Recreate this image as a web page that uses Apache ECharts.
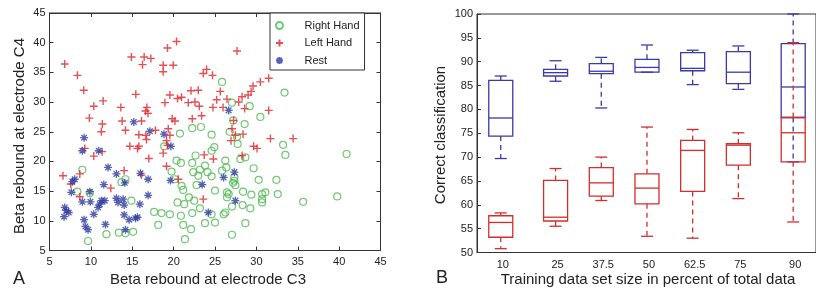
<!DOCTYPE html>
<html>
<head>
<meta charset="utf-8">
<script src="https://cdn.jsdelivr.net/npm/echarts@6/dist/echarts.min.js"></script>
<style>
  html, body { margin: 0; padding: 0; background: #fff; }
  #main { width: 816px; height: 289px; }
</style>
</head>
<body>
<div id="main"></div>
<script>
// panel A: beta rebound at C3 (x) vs C4 (y)
const rightHand = [
  [20.76, 24.7], [22.25, 25.6], [23.3, 25.8],
  [25.85, 33.4], [33.4, 31.6], [27.05, 29.9], [29.19, 29.3], [30.48, 27.5], [28.58, 26.3], [27.2, 26.9], [26.77, 25.0], [27.66, 24.1],
  [8.97, 18.6], [8.37, 14.9], [9.87, 14.65], [9.66, 6.6], [11.88, 7.75], [13.38, 8.0], [14.18, 7.9], [15.11, 8.15],
  [13.69, 16.5], [14.18, 17.0], [14.9, 13.4], [18.86, 22.55], [17.65, 11.5], [18.54, 11.3], [19.55, 11.1], [18.14, 9.3],
  [20.47, 13.1], [21.28, 12.8], [20.88, 10.85], [19.75, 18.3], [20.16, 17.0], [20.96, 15.9], [21.16, 15.2], [20.35, 20.15],
  [20.88, 19.75], [22.25, 19.75], [22.65, 21.0], [22.37, 18.2], [23.18, 18.6], [22.98, 17.6], [23.79, 19.3], [24.1, 18.2],
  [24.59, 17.5], [22.77, 16.0], [25.0, 15.1], [21.85, 13.95], [22.49, 13.4], [23.18, 12.1], [22.25, 11.3], [21.16, 9.3],
  [22.1, 8.6], [21.37, 6.9], [23.79, 9.6], [24.59, 11.1], [25.0, 9.7], [24.59, 21.8], [24.92, 22.4], [24.59, 24.5],
  [27.74, 22.95], [26.25, 20.15], [26.37, 19.0], [25.85, 18.45], [26.45, 14.8], [26.65, 14.5], [27.34, 16.75], [27.18, 16.4],
  [27.46, 16.0], [27.34, 17.3], [28.06, 20.4], [28.67, 20.7], [29.67, 18.85], [30.28, 16.9], [28.39, 14.9], [29.39, 14.4],
  [30.69, 14.5], [31.09, 14.8], [30.69, 13.65], [30.69, 13.1], [32.42, 16.9], [32.58, 14.5], [33.23, 22.8], [33.5, 21.1],
  [40.9, 21.25], [39.77, 14.1], [35.65, 13.2], [28.34, 12.65], [29.27, 12.1], [27.05, 12.4], [26.25, 11.4], [26.05, 11.1],
  [28.67, 9.6], [27.05, 7.65], [26.45, 13.95]
]
const leftHand = [
  [6.84, 36.4], [8.37, 34.5], [9.14, 32.0], [10.35, 29.3], [11.48, 30.2], [9.82, 27.3], [11.39, 26.3], [11.27, 25.0],
  [13.62, 29.1], [13.78, 26.8], [14.18, 25.25], [15.43, 31.3], [14.9, 37.6], [16.44, 37.6], [17.25, 37.35], [16.24, 36.3],
  [16.12, 26.8], [16.77, 29.1], [16.6, 28.5], [16.9, 28.1], [15.8, 24.5], [16.65, 24.4], [17.8, 25.25], [19.26, 39.1],
  [20.35, 40.2], [18.74, 36.2], [19.95, 36.2], [18.74, 35.1], [18.95, 29.9], [19.55, 31.2], [20.47, 30.6], [20.96, 30.8],
  [19.83, 27.2], [20.16, 26.8], [19.35, 25.5], [19.55, 24.4], [22.1, 31.9], [22.98, 32.0], [21.77, 29.9], [22.58, 30.0],
  [23.1, 29.3], [22.25, 27.2], [23.38, 27.7], [23.58, 34.8], [23.98, 35.5], [24.7, 34.5], [24.75, 29.1], [25.2, 30.4],
  [27.66, 38.6], [30.48, 33.4], [31.49, 34.0], [29.6, 32.7], [29.36, 31.8], [29.0, 31.2], [25.64, 31.8], [26.45, 30.5],
  [28.27, 30.9], [27.86, 30.0], [25.97, 29.1], [28.58, 28.9], [31.49, 28.6], [27.05, 25.5], [27.25, 26.9], [27.46, 24.4],
  [31.7, 23.85], [34.44, 23.85],
  [9.26, 22.2], [10.35, 20.9], [11.36, 21.65], [14.71, 22.55], [15.63, 22.2], [15.8, 22.55], [16.72, 23.7], [17.0, 20.5],
  [18.74, 21.4], [19.14, 19.2], [19.14, 23.5], [19.26, 22.7], [14.02, 18.45], [8.66, 17.9], [6.63, 17.6], [7.57, 16.2],
  [8.66, 14.05], [12.41, 15.5], [16.12, 17.7], [20.56, 17.0], [23.58, 13.65], [23.7, 21.1], [24.8, 20.4],
  [26.93, 23.5], [28.39, 24.6], [29.67, 22.55], [30.08, 22.2], [28.27, 21.0]
]
const rest = [
  [15.19, 26.65], [17.13, 25.1], [18.83, 24.6], [9.18, 24.0], [26.65, 28.6],
  [8.97, 21.8], [10.95, 21.8], [12.08, 19.0], [7.76, 16.6], [8.05, 17.0], [7.64, 14.8], [9.87, 14.9], [9.94, 13.2],
  [6.84, 12.25], [7.04, 11.7], [7.32, 11.4], [6.76, 10.7], [8.97, 13.2], [9.18, 10.2], [9.34, 9.05], [9.66, 8.5],
  [10.35, 11.1], [10.87, 12.25], [11.07, 12.8], [11.27, 13.4], [11.68, 13.4], [11.56, 16.1], [11.76, 9.4], [13.09, 17.9],
  [13.09, 13.8], [13.29, 13.1], [13.9, 13.65], [14.02, 12.65], [14.02, 11.0], [14.18, 8.5], [14.62, 10.2], [15.39, 10.45],
  [15.63, 10.6], [16.0, 18.0], [15.92, 12.8], [16.92, 17.0], [16.92, 14.3], [14.1, 16.4], [19.67, 22.55], [19.62, 16.8],
  [23.46, 16.1], [24.19, 11.4], [27.34, 18.2], [26.04, 17.3], [27.46, 13.4]
]

// panel B: training set size (%) and box stats [min, q1, median, q3, max]
const trainSizes = [10, 25, 37.5, 50, 62.5, 75, 90]
const blueBoxes = [
  [69.7, 74.4, 78.2, 86.1, 87.0],
  [85.9, 87.0, 87.7, 88.4, 90.2],
  [80.3, 87.5, 88.0, 89.6, 90.9],
  [87.8, 87.8, 88.8, 90.5, 93.5],
  [85.2, 88.1, 88.6, 91.9, 92.4],
  [84.2, 85.4, 87.8, 92.1, 93.3],
  [69.0, 78.3, 84.7, 93.8, 100]
]
const redBoxes = [
  [50.8, 53.2, 56.3, 57.7, 58.3],
  [55.5, 56.6, 57.4, 65.1, 67.6],
  [60.9, 61.8, 64.6, 67.8, 70.0],
  [53.4, 60.2, 63.5, 66.5, 76.3],
  [53.0, 62.8, 71.4, 73.5, 75.8],
  [61.3, 68.3, 72.5, 72.8, 75.1],
  [56.4, 69.0, 75.1, 78.3, 94.0]
]

const green = '#4fb94f'
const red = '#e0242a'
const blue = '#2c3a9e'
const boxBlue = '#3a3aa8'
const boxRed = '#d22e2e'
const ink = '#222'
const font = 'Liberation Sans, Arial, sans-serif'

function boxRows(stats) {
  return stats.map((s, i) => [trainSizes[i]].concat(s))
}

function renderBox(color) {
  return function (params, api) {
    const pos = api.value(0)
    const lo = api.coord([pos, api.value(1)])
    const q1 = api.coord([pos, api.value(2)])
    const md = api.coord([pos, api.value(3)])
    const q3 = api.coord([pos, api.value(4)])
    const hi = api.coord([pos, api.value(5)])
    const cx = md[0]
    const hw = 12
    const cw = 6
    const solid = { stroke: color, lineWidth: 1.3, fill: null }
    const dashed = { stroke: color, lineWidth: 1.3, lineDash: [5, 4], fill: null }
    return {
      type: 'group',
      children: [
        { type: 'line', shape: { x1: cx, y1: q3[1], x2: cx, y2: hi[1] }, style: dashed },
        { type: 'line', shape: { x1: cx, y1: q1[1], x2: cx, y2: lo[1] }, style: dashed },
        { type: 'line', shape: { x1: cx - cw, y1: hi[1], x2: cx + cw, y2: hi[1] }, style: solid },
        { type: 'line', shape: { x1: cx - cw, y1: lo[1], x2: cx + cw, y2: lo[1] }, style: solid },
        { type: 'rect', shape: { x: cx - hw, y: q3[1], width: 2 * hw, height: q1[1] - q3[1] }, style: { stroke: color, lineWidth: 1.3, fill: 'none' } },
        { type: 'line', shape: { x1: cx - hw, y1: md[1], x2: cx + hw, y2: md[1] }, style: solid }
      ]
    }
  }
}

const axisLine = { show: true, lineStyle: { color: '#333', width: 1 } }
const labelStyle = { color: ink, fontSize: 11, fontFamily: font }

function title(text, x, y, size, rotate) {
  return {
    type: 'text', x: x, y: y, rotation: rotate ? Math.PI / 2 : 0,
    style: { text: text, fill: ink, font: size + 'px ' + font, align: 'center', verticalAlign: 'middle' }
  }
}

const chart = echarts.init(document.getElementById('main'))
chart.setOption({
  animation: false,
  backgroundColor: '#fff',
  grid: [
    { left: 49.5, top: 13, width: 331, height: 237.5, show: true, borderColor: '#333', borderWidth: 1, backgroundColor: 'transparent' },
    { left: 477, top: 14, width: 345, height: 238.5, show: true, borderColor: '#333', borderWidth: 1, backgroundColor: 'transparent' }
  ],
  xAxis: [
    {
      gridIndex: 0, type: 'value', min: 5, max: 45, interval: 5, position: 'bottom',
      axisLine: axisLine, axisTick: { inside: true, length: 4, lineStyle: { color: '#333' } },
      axisLabel: Object.assign({ margin: 6 }, labelStyle), splitLine: { show: false }
    },
    {
      gridIndex: 0, type: 'value', min: 5, max: 45, interval: 5, position: 'top',
      axisLine: axisLine, axisTick: { inside: true, length: 4, lineStyle: { color: '#333' } },
      axisLabel: { show: false }, splitLine: { show: false }
    },
    {
      gridIndex: 1, type: 'value', min: 3.5, max: 96.24, position: 'bottom',
      axisLine: axisLine, axisTick: { show: false },
      axisLabel: Object.assign({ margin: 7, customValues: trainSizes, padding: [0, 0, 0, 4] }, labelStyle),
      splitLine: { show: false }
    }
  ],
  yAxis: [
    {
      gridIndex: 0, type: 'value', min: 5, max: 45, interval: 5, position: 'left',
      axisLine: axisLine, axisTick: { inside: true, length: 4, lineStyle: { color: '#333' } },
      axisLabel: Object.assign({ margin: 4 }, labelStyle), splitLine: { show: false }
    },
    {
      gridIndex: 0, type: 'value', min: 5, max: 45, interval: 5, position: 'right',
      axisLine: axisLine, axisTick: { inside: true, length: 4, lineStyle: { color: '#333' } },
      axisLabel: { show: false }, splitLine: { show: false }
    },
    {
      gridIndex: 1, type: 'value', min: 50, max: 100, interval: 5, position: 'left',
      axisLine: axisLine, axisTick: { inside: true, length: 4, lineStyle: { color: '#333' } },
      axisLabel: Object.assign({ margin: 4 }, labelStyle), splitLine: { show: false }
    }
  ],
  legend: {
    left: 270, top: 13, orient: 'vertical',
    data: ['Right Hand', 'Left Hand', 'Rest'],
    itemWidth: 40, itemHeight: 7, itemGap: 6.5,
    padding: [7, 5, 4, 5],
    backgroundColor: '#fff', borderColor: '#333', borderWidth: 1, borderRadius: 0,
    textStyle: { fontSize: 11, color: ink, fontFamily: font },
    selectedMode: false
  },
  series: [
    {
      name: 'Right Hand', type: 'scatter', xAxisIndex: 0, yAxisIndex: 0,
      symbol: 'circle', symbolSize: 7,
      itemStyle: { color: 'rgba(255,255,255,0)', borderColor: green, borderWidth: 1.2 },
      data: rightHand
    },
    {
      name: 'Left Hand', type: 'scatter', xAxisIndex: 0, yAxisIndex: 0,
      symbol: 'path://M0,5L10,5M5,0L5,10', symbolSize: 8, symbolKeepAspect: true,
      itemStyle: { color: red, borderColor: red, borderWidth: 1.4 },
      data: leftHand
    },
    {
      name: 'Rest', type: 'scatter', xAxisIndex: 0, yAxisIndex: 0,
      symbol: 'path://M0,5L10,5M5,0L5,10M1.5,1.5L8.5,8.5M8.5,1.5L1.5,8.5', symbolSize: 8, symbolKeepAspect: true,
      itemStyle: { color: blue, borderColor: blue, borderWidth: 1.3 },
      data: rest
    },
    {
      type: 'custom', xAxisIndex: 2, yAxisIndex: 2,
      renderItem: renderBox(boxBlue),
      encode: { x: 0, y: [1, 2, 3, 4, 5] },
      data: boxRows(blueBoxes)
    },
    {
      type: 'custom', xAxisIndex: 2, yAxisIndex: 2,
      renderItem: renderBox(boxRed),
      encode: { x: 0, y: [1, 2, 3, 4, 5] },
      data: boxRows(redBoxes)
    }
  ],
  graphic: [
    title('A', 19, 279, 18, false),
    title('B', 442, 278, 18, false),
    title('Beta rebound at electrode C3', 208, 280, 15, false),
    title('Beta rebound at electrode C4', 20, 136, 15, true),
    title('Training data set size in percent of total data', 648, 280, 15, false),
    title('Correct classification', 441, 135, 15, true)
  ]
})
</script>
</body>
</html>
